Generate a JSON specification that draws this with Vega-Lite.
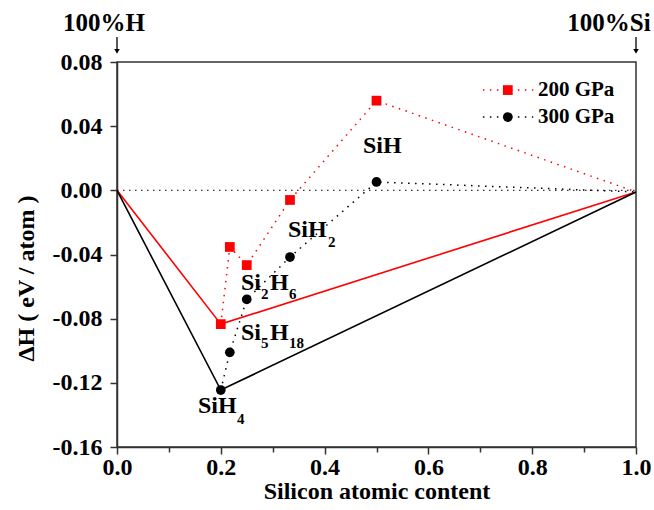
{
  "$schema": "https://vega.github.io/schema/vega-lite/v6.json",
  "width": 519,
  "height": 385,
  "autosize": "none",
  "padding": {"left": 117, "top": 62, "right": 18, "bottom": 63},
  "background": "white",
  "config": {
    "view": {"stroke": "#333", "strokeWidth": 1.5},
    "font": "Liberation Serif",
    "axis": {
      "domainColor": "#333", "domainWidth": 1.5, "tickColor": "#333", "tickWidth": 1.5,
      "grid": false, "labelFont": "Liberation Serif", "labelFontWeight": "bold", "labelFontSize": 24,
      "labelColor": "#000", "titleFont": "Liberation Serif", "titleFontWeight": "bold", "titleFontSize": 24, "titleColor": "#000"
    }
  },
  "datasets": {
    "zero": [{"x": 0, "y": 0}, {"x": 1, "y": 0}],
    "hull": [
      {"p": "200 GPa", "x": 0, "y": 0}, {"p": "200 GPa", "x": 0.2, "y": -0.0834}, {"p": "200 GPa", "x": 1, "y": -0.001},
      {"p": "300 GPa", "x": 0, "y": 0}, {"p": "300 GPa", "x": 0.2, "y": -0.1245}, {"p": "300 GPa", "x": 1, "y": -0.001}
    ],
    "comp": [
      {"p": "200 GPa", "x": 0.2, "y": -0.0834}, {"p": "200 GPa", "x": 0.2174, "y": -0.0353}, {"p": "200 GPa", "x": 0.25, "y": -0.0466},
      {"p": "200 GPa", "x": 0.3333, "y": -0.006}, {"p": "200 GPa", "x": 0.5, "y": 0.0559}, {"p": "200 GPa", "x": 1, "y": -0.001},
      {"p": "300 GPa", "x": 0.2, "y": -0.1245}, {"p": "300 GPa", "x": 0.2174, "y": -0.101}, {"p": "300 GPa", "x": 0.25, "y": -0.068},
      {"p": "300 GPa", "x": 0.3333, "y": -0.0416}, {"p": "300 GPa", "x": 0.5, "y": 0.0052}, {"p": "300 GPa", "x": 1, "y": -0.001}
    ],
    "labels": [
      {"t": "SiH", "x": 0.474, "y": 0.0233},
      {"t": "SiH", "x": 0.3295, "y": -0.0291},
      {"t": "Si", "x": 0.2389, "y": -0.0621},
      {"t": "H", "x": 0.2948, "y": -0.0621},
      {"t": "Si", "x": 0.2389, "y": -0.0933},
      {"t": "H", "x": 0.2948, "y": -0.0933},
      {"t": "SiH", "x": 0.1561, "y": -0.1388}
    ],
    "subs": [
      {"t": "2", "x": 0.4066, "y": -0.0353},
      {"t": "2", "x": 0.2775, "y": -0.0677},
      {"t": "6", "x": 0.3314, "y": -0.0677},
      {"t": "5", "x": 0.2775, "y": -0.0983},
      {"t": "18", "x": 0.3314, "y": -0.0983},
      {"t": "4", "x": 0.2312, "y": -0.1457}
    ],
    "legend": [
      {"p": "200 GPa", "x0": 0.705, "x1": 0.802, "xm": 0.753, "xt": 0.811, "y": 0.0625},
      {"p": "300 GPa", "x0": 0.705, "x1": 0.802, "xm": 0.753, "xt": 0.811, "y": 0.0457}
    ],
    "tops": [
      {"t": "100%H", "x": 0, "xt": -0.025, "yt": 0.0993, "y0": 0.0956, "y1": 0.0862, "ya": 0.0866},
      {"t": "100%Si", "x": 1, "xt": 0.948, "yt": 0.0993, "y0": 0.0956, "y1": 0.0862, "ya": 0.0866}
    ]
  },
  "layer": [
    {
      "data": {"name": "zero"},
      "mark": {"type": "line", "color": "#333", "strokeWidth": 1.2, "strokeDash": [1.5, 4.5]},
      "encoding": {
        "x": {
          "field": "x", "type": "quantitative",
          "scale": {"domain": [0, 1], "nice": false, "zero": false},
          "axis": {
            "title": "Silicon atomic content",
            "values": [0, 0.1, 0.2, 0.3, 0.4, 0.5, 0.6, 0.7, 0.8, 0.9, 1.0],
            "labelExpr": "round(datum.value*10) % 2 == 0 ? format(datum.value, '.1f') : ''",
            "tickSize": {"condition": {"test": "round(datum.value*10) % 2 == 0", "value": 7}, "value": 5},
            "labelPadding": 1, "titlePadding": 0, "labelFlush": false
          }
        },
        "y": {
          "field": "y", "type": "quantitative",
          "scale": {"domain": [-0.16, 0.08], "nice": false, "zero": false},
          "axis": {
            "title": "ΔH ( eV / atom )",
            "values": [-0.16, -0.14, -0.12, -0.1, -0.08, -0.06, -0.04, -0.02, 0, 0.02, 0.04, 0.06, 0.08],
            "labelExpr": "abs(round(datum.value*100)) % 4 == 0 ? (datum.value < -0.001 ? '-' + format(-datum.value, '.2f') : format(abs(datum.value), '.2f')) : ''",
            "tickSize": {"condition": {"test": "abs(round(datum.value*100)) % 4 == 0", "value": 7}, "value": 5},
            "labelPadding": 8, "titlePadding": 14, "labelFlush": false, "titleY": 216
          }
        }
      }
    },
    {
      "data": {"name": "hull"},
      "mark": {"type": "line", "strokeWidth": 1.6},
      "encoding": {
        "x": {"field": "x", "type": "quantitative"},
        "y": {"field": "y", "type": "quantitative"},
        "color": {"field": "p", "type": "nominal", "scale": {"domain": ["200 GPa", "300 GPa"], "range": ["#ff0000", "#000000"]}, "legend": null},
        "detail": {"field": "p"}
      }
    },
    {
      "data": {"name": "comp"},
      "mark": {"type": "line", "strokeWidth": 1.5, "strokeDash": [1.5, 5.5]},
      "encoding": {
        "x": {"field": "x", "type": "quantitative"},
        "y": {"field": "y", "type": "quantitative"},
        "color": {"field": "p", "type": "nominal", "legend": null},
        "detail": {"field": "p"}
      }
    },
    {
      "data": {"name": "comp"},
      "transform": [{"filter": "datum.x < 0.99"}],
      "mark": {"type": "point", "filled": true, "opacity": 1, "size": 95},
      "encoding": {
        "x": {"field": "x", "type": "quantitative"},
        "y": {"field": "y", "type": "quantitative"},
        "color": {"field": "p", "type": "nominal", "legend": null},
        "shape": {"field": "p", "type": "nominal", "scale": {"domain": ["200 GPa", "300 GPa"], "range": ["square", "circle"]}, "legend": null}
      }
    },
    {
      "data": {"name": "labels"},
      "mark": {"type": "text", "font": "Liberation Serif", "fontWeight": "bold", "fontSize": 24, "align": "left", "baseline": "alphabetic", "color": "#000"},
      "encoding": {
        "x": {"field": "x", "type": "quantitative"},
        "y": {"field": "y", "type": "quantitative"},
        "text": {"field": "t"}
      }
    },
    {
      "data": {"name": "subs"},
      "mark": {"type": "text", "font": "Liberation Serif", "fontWeight": "bold", "fontSize": 15, "align": "left", "baseline": "alphabetic", "color": "#000"},
      "encoding": {
        "x": {"field": "x", "type": "quantitative"},
        "y": {"field": "y", "type": "quantitative"},
        "text": {"field": "t"}
      }
    },
    {
      "data": {"name": "legend"},
      "mark": {"type": "rule", "strokeWidth": 1.5, "strokeDash": [1.5, 5.5]},
      "encoding": {
        "x": {"field": "x0", "type": "quantitative"},
        "x2": {"field": "x1"},
        "y": {"field": "y", "type": "quantitative"},
        "color": {"field": "p", "type": "nominal", "legend": null}
      }
    },
    {
      "data": {"name": "legend"},
      "mark": {"type": "point", "filled": true, "opacity": 1, "size": 95},
      "encoding": {
        "x": {"field": "xm", "type": "quantitative"},
        "y": {"field": "y", "type": "quantitative"},
        "color": {"field": "p", "type": "nominal", "legend": null},
        "shape": {"field": "p", "type": "nominal", "legend": null}
      }
    },
    {
      "data": {"name": "legend"},
      "mark": {"type": "text", "font": "Liberation Serif", "fontWeight": "bold", "fontSize": 21, "align": "left", "baseline": "middle", "color": "#000"},
      "encoding": {
        "x": {"field": "xt", "type": "quantitative"},
        "y": {"field": "y", "type": "quantitative"},
        "text": {"field": "p"}
      }
    },
    {
      "data": {"name": "tops"},
      "mark": {"type": "text", "font": "Liberation Serif", "fontWeight": "bold", "fontSize": 25, "align": "center", "baseline": "alphabetic", "color": "#000"},
      "encoding": {
        "x": {"field": "xt", "type": "quantitative"},
        "y": {"field": "yt", "type": "quantitative"},
        "text": {"field": "t"}
      }
    },
    {
      "data": {"name": "tops"},
      "mark": {"type": "rule", "strokeWidth": 1.3, "color": "#000"},
      "encoding": {
        "x": {"field": "x", "type": "quantitative"},
        "y": {"field": "y0", "type": "quantitative"},
        "y2": {"field": "y1"}
      }
    },
    {
      "data": {"name": "tops"},
      "mark": {"type": "point", "shape": "triangle-down", "filled": true, "opacity": 1, "size": 30, "color": "#000"},
      "encoding": {
        "x": {"field": "x", "type": "quantitative"},
        "y": {"field": "ya", "type": "quantitative"}
      }
    }
  ]
}
